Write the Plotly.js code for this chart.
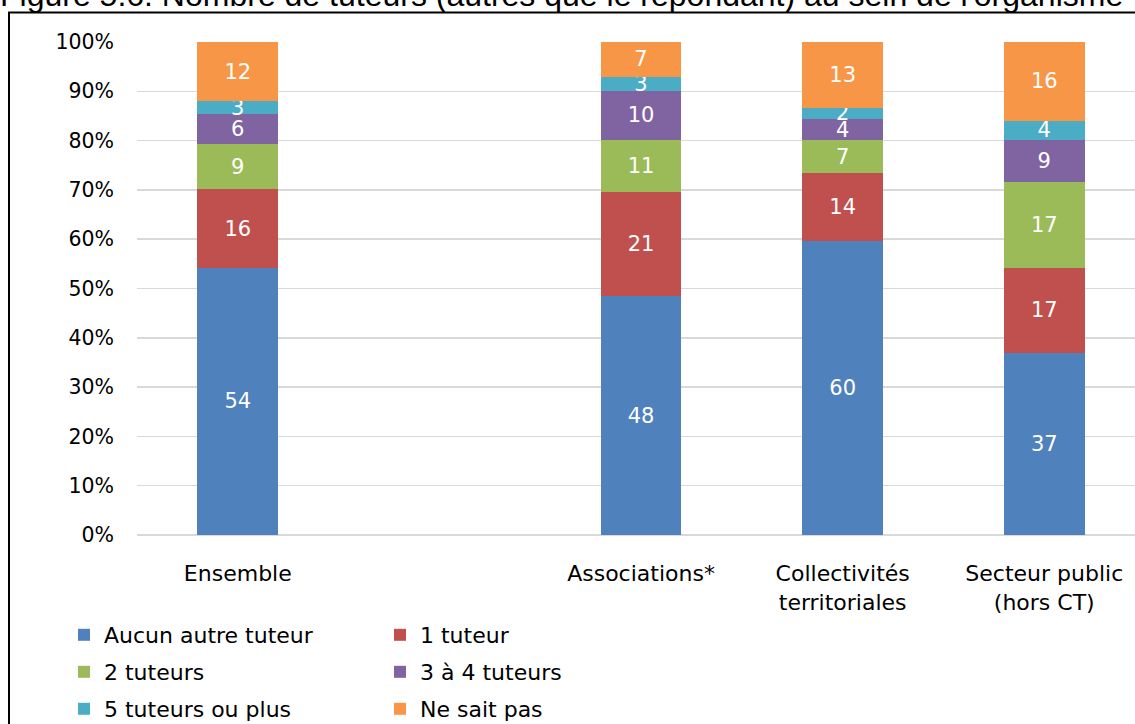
<!DOCTYPE html>
<html>
<head>
<meta charset="utf-8">
<script src="https://cdn.plot.ly/plotly-3.0.1.min.js"></script>
<style>html,body{margin:0;padding:0;overflow:hidden;background:#fff}</style>
</head>
<body>
<div id="chart" style="width:1135px;height:760px"></div>
<script>
const titleText = "Figure 5.6. Nombre de tuteurs (autres que le répondant) au sein de l'organisme";
const categories = ["Ensemble", "\u00a0", "Associations*", "Collectivités<br>territoriales", "Secteur public<br>(hors CT)"];
const seriesNames = ["Aucun autre tuteur", "1 tuteur", "2 tuteurs", "3 à 4 tuteurs", "5 tuteurs ou plus", "Ne sait pas"];
const seriesColors = ["#4F81BD", "#C0504D", "#9BBB59", "#8064A2", "#4BACC6", "#F79646"];
const aucunAutre   = [54.2, null, 48.4, 59.6, 36.9];
const unTuteur     = [15.9, null, 21.2, 13.8, 17.3];
const deuxTuteurs  = [9.2,  null, 10.6, 6.7,  17.4];
const troisQuatre  = [6.1,  null, 9.8,  4.3,  8.6];
const cinqPlus     = [2.6,  null, 3.0,  2.2,  3.8];
const neSaitPas    = [12.0, null, 7.0,  13.4, 16.0];
const seriesValues = [aucunAutre, unTuteur, deuxTuteurs, troisQuatre, cinqPlus, neSaitPas];
const yTicks = [0,10,20,30,40,50,60,70,80,90,100];

const FONT = "DejaVu Sans, sans-serif";
const W = 1135, H = 760, ML = 137, MR = 0, MT = 42, MB = H - 535;
const PW = W - ML - MR, PH = H - MT - MB;
const px2x = p => (p - ML) / PW;
const px2y = p => (H - MB - p) / PH;

const traces = seriesNames.map((name, i) => ({
  type: 'bar',
  name: name,
  x: categories,
  y: seriesValues[i],
  marker: {color: seriesColors[i], line: {width: 0}},
  texttemplate: '%{y:.0f}',
  textposition: 'inside',
  insidetextanchor: 'middle',
  textangle: 0,
  constraintext: 'none',
  textfont: {family: FONT, size: 21, color: '#ffffff'},
  hoverinfo: 'skip',
  legend: (i % 2 === 0) ? 'legend' : 'legend2',
  legendgroup: 'g' + i
}));

const legendCommon = {
  orientation: 'v',
  traceorder: 'grouped',
  tracegroupgap: 5.4,
  font: {family: FONT, size: 22, color: '#000'},
  bgcolor: 'rgba(0,0,0,0)',
  xanchor: 'left',
  yanchor: 'top',
  y: px2y(614)
};

const layout = {
  width: W, height: H,
  margin: {l: ML, r: MR, t: MT, b: MB, pad: 0},
  paper_bgcolor: '#fff',
  plot_bgcolor: '#fff',
  barmode: 'stack',
  bargap: 0.6,
  showlegend: true,
  title: {
    text: titleText,
    font: {family: 'Liberation Sans, Arial, sans-serif', size: 32, color: '#000'},
    xref: 'container', yref: 'container',
    x: 0, xanchor: 'left',
    y: 1 - 6 / H, yanchor: 'bottom',
    pad: {t: 0, b: 0, l: 0, r: 0}
  },
  xaxis: {
    type: 'category',
    categoryorder: 'array',
    categoryarray: categories,
    range: [-0.5, 4.45],
    showgrid: false,
    showline: false,
    zeroline: false,
    ticks: '',
    ticklabelstandoff: 23,
    tickfont: {family: FONT, size: 22, color: '#000'},
    fixedrange: true
  },
  yaxis: {
    range: [0, 100],
    tickvals: yTicks,
    ticktext: yTicks.map(v => v + '%'),
    showgrid: true,
    gridcolor: '#D9D9D9',
    gridwidth: 1.5,
    zeroline: true,
    zerolinecolor: '#D9D9D9',
    zerolinewidth: 1.5,
    showline: false,
    ticks: '',
    ticklabelstandoff: 22,
    tickfont: {family: FONT, size: 20.5, color: '#000'},
    fixedrange: true
  },
  legend: Object.assign({}, legendCommon, {x: px2x(64)}),
  legend2: Object.assign({}, legendCommon, {x: px2x(380)}),
  shapes: [
    {type: 'line', xref: 'paper', yref: 'paper', x0: px2x(9), x1: px2x(9), y0: px2y(12), y1: px2y(H + 5), line: {color: '#000', width: 2}},
    {type: 'line', xref: 'paper', yref: 'paper', x0: px2x(8), x1: px2x(1140), y0: px2y(12.5), y1: px2y(12.5), line: {color: '#000', width: 2}}
  ]
};

Plotly.newPlot('chart', traces, layout, {displayModeBar: false, staticPlot: true});
</script>
</body>
</html>
